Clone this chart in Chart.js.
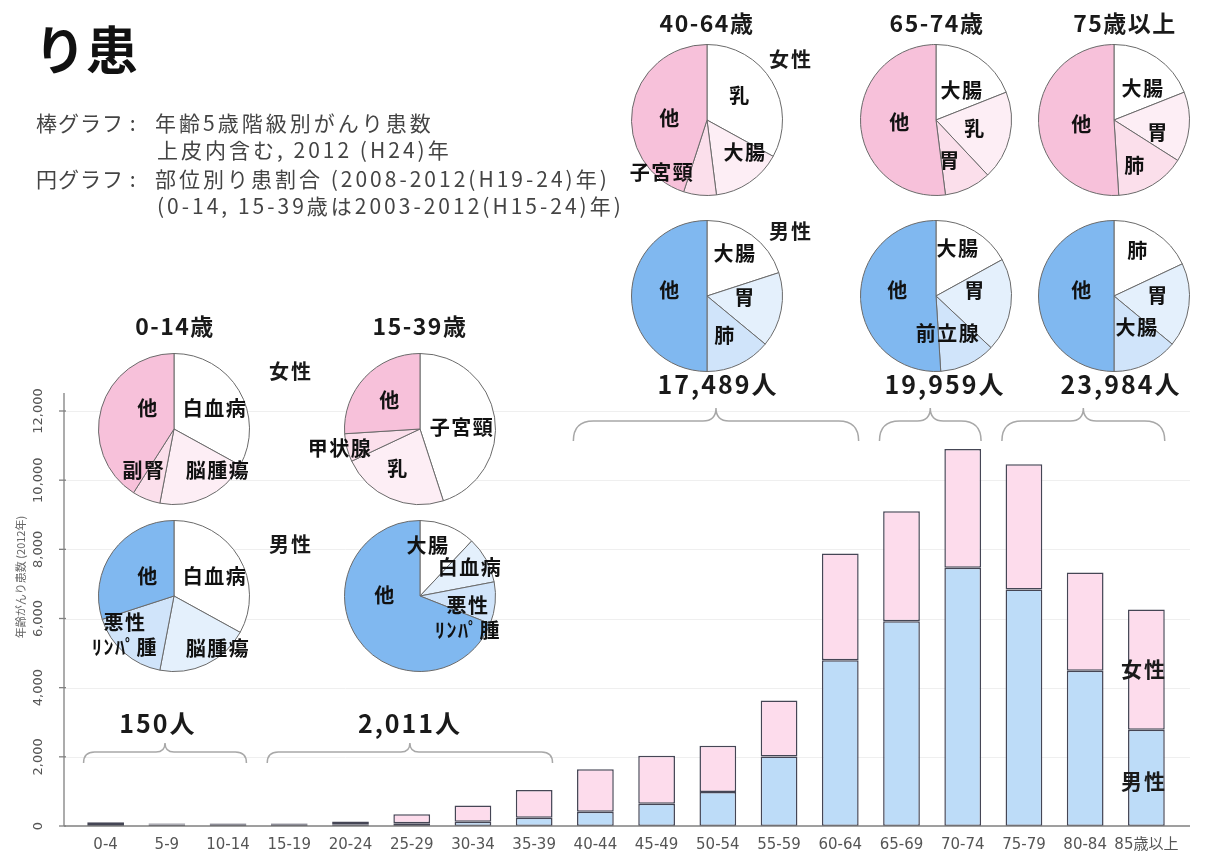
<!DOCTYPE html>
<html lang="ja">
<head>
<meta charset="utf-8">
<title>り患</title>
<script src="https://cdn.jsdelivr.net/npm/chart.js@4.4.1/dist/chart.umd.min.js"></script>
<style>
  html, body { margin: 0; padding: 0; background: #fff; }
  body {
    width: 1208px; height: 854px; position: relative; overflow: hidden;
    font-family: "Noto Sans CJK JP", "Noto Sans", sans-serif;
  }
  #barWrap { position: absolute; left: 0; top: 0; width: 1208px; height: 854px; }
  .pie { position: absolute; width: 240px; height: 200px; }
  .t { position: absolute; white-space: nowrap; color: #1a1a1a; font-weight: bold; transform: translate(-50%, -50%); }
  .title { position: absolute; left: 34px; top: 10px; font-size: 52px; font-weight: bold; color: #111; }
  .sub { position: absolute; white-space: nowrap; font-size: 21px; letter-spacing: 3px; color: #444; }
  .grp { font-size: 23px; letter-spacing: 1.5px; }
  .sex { font-size: 20px; letter-spacing: 2px; }
  .cnt { font-size: 25px; letter-spacing: 2px; }
</style>
</head>
<body>
<div id="barWrap"><canvas id="barChart"></canvas></div>

<div class="title">り患</div>
<div class="sub" style="left:36px; top:107px; letter-spacing:1px;">棒グラフ :</div>
<div class="sub" style="left:155px; top:107px;">年齢5歳階級別がんり患数</div>
<div class="sub" style="left:157px; top:134px;">上皮内含む, 2012 (H24)年</div>
<div class="sub" style="left:36px; top:163px; letter-spacing:1px;">円グラフ :</div>
<div class="sub" style="left:155px; top:163px;">部位別り患割合 (2008-2012(H19-24)年)</div>
<div class="sub" style="left:157px; top:190px;">(0-14, 15-39歳は2003-2012(H15-24)年)</div>

<div class="t grp" style="left:175px; top:325px;">0-14歳</div>
<div class="t grp" style="left:420px; top:325px;">15-39歳</div>
<div class="t grp" style="left:707px; top:22px;">40-64歳</div>
<div class="t grp" style="left:937px; top:22px;">65-74歳</div>
<div class="t grp" style="left:1125px; top:22px;">75歳以上</div>

<div class="t sex" style="left:291px; top:370px;">女性</div>
<div class="t sex" style="left:291px; top:543px;">男性</div>
<div class="t sex" style="left:791px; top:58px;">女性</div>
<div class="t sex" style="left:791px; top:230px;">男性</div>

<div class="t cnt" style="left:158px; top:722px;">150人</div>
<div class="t cnt" style="left:410px; top:722px;">2,011人</div>
<div class="t cnt" style="left:718px; top:383px;">17,489人</div>
<div class="t cnt" style="left:945px; top:383px;">19,959人</div>
<div class="t cnt" style="left:1121px; top:383px;">23,984人</div>

<div class="t sex" style="left:1144px; top:668px; font-size:21px;">女性</div>
<div class="t sex" style="left:1144px; top:780px; font-size:21px;">男性</div>

<script>
// ---- bar chart data (2012 incidence by 5-year age group) ----
const ageLabels = ['0-4', '5-9', '10-14', '15-19', '20-24', '25-29', '30-34', '35-39', '40-44',
  '45-49', '50-54', '55-59', '60-64', '65-69', '70-74', '75-79', '80-84', '85歳以上'];
const maleCases = [60, 40, 35, 35, 50, 80, 125, 240, 415, 640, 985, 2010, 4790, 5920, 7470, 6840, 4490, 2780];
const femaleCases = [50, 30, 35, 35, 80, 260, 465, 800, 1225, 1390, 1335, 1620, 3090, 3180, 3430, 3620, 2840, 3480];
const yTickStep = 2000;
const yMax = 12000;
const yTitle = '年齢がんり患数 (2012年)';

// age groups used by the pies, as first/last bar index
const groupFirstBar = [0, 3, 8, 13, 15];
const groupLastBar = [2, 7, 12, 14, 17];

// ---- pie data (share of sites, clockwise from 12 o'clock) ----
const femaleSites = [
  ['白血病', '脳腫瘍', '副腎', '他'],
  ['子宮頸', '乳', '甲状腺', '他'],
  ['乳', '大腸', '子宮頸', '他'],
  ['大腸', '乳', '胃', '他'],
  ['大腸', '胃', '肺', '他']
];
const femaleShares = [
  [33, 20, 6, 41],
  [45, 23, 6, 26],
  [33, 15, 7, 45],
  [19, 19, 10, 52],
  [19, 15, 15, 51]
];
const maleSites = [
  ['白血病', '脳腫瘍', '悪性\nﾘﾝﾊﾟ腫', '他'],
  ['大腸', '白血病', '悪性\nﾘﾝﾊﾟ腫', '他'],
  ['大腸', '胃', '肺', '他'],
  ['大腸', '胃', '前立腺', '他'],
  ['肺', '胃', '大腸', '他']
];
const maleShares = [
  [33, 20, 17, 30],
  [12, 10, 9, 69],
  [20, 16, 14, 50],
  [17, 20, 12, 51],
  [18, 18, 14, 50]
];

// layout of the pies on the page
const pieX = [174, 420, 707, 936, 1114];
const pieFemaleY = [429, 429, 120, 120, 120];
const pieMaleY = [596, 596, 296, 296, 296];
const pieRadius = 76;
const femaleColors = ['#ffffff', '#fdeef5', '#fbdfeb', '#f7c1da'];
const maleColors = ['#ffffff', '#e4f0fc', '#d0e4fa', '#80b8f0'];
// where each slice label sits, relative to the pie centre
const femaleLabelAt = [
  [[41, -21], [44, 41], [-30, 41], [-26, -21]],
  [[42, -2], [-22, 39], [-80, 19], [-30, -29]],
  [[33, -25], [38, 32], [-45, 52], [-37, -2]],
  [[26, -30], [39, 8], [14, 40], [-36, 2]],
  [[29, -32], [44, 12], [21, 45], [-32, 4]]
];
const maleLabelAt = [
  [[41, -20], [44, 52], [-49, 39], [-26, -20]],
  [[8, -51], [50, -29], [48, 22], [-35, -1]],
  [[28, -43], [38, 1], [18, 39], [-37, -6]],
  [[22, -48], [39, -6], [12, 37], [-38, -6]],
  [[24, -46], [44, -1], [23, 31], [-32, -6]]
];

const FONT = '"Noto Sans CJK JP", "Noto Sans", sans-serif';
const TICK_FONT = '"DejaVu Sans", "Noto Sans CJK JP", sans-serif';

function drawBrace(ctx, x1, x2, y, h, tip) {
  const xm = (x1 + x2) / 2;
  ctx.beginPath();
  ctx.moveTo(x1, y + h);
  ctx.quadraticCurveTo(x1, y, x1 + h, y);
  ctx.lineTo(xm - tip, y);
  ctx.quadraticCurveTo(xm, y, xm, y - tip);
  ctx.quadraticCurveTo(xm, y, xm + tip, y);
  ctx.lineTo(x2 - h, y);
  ctx.quadraticCurveTo(x2, y, x2, y + h);
  ctx.stroke();
}

// axes, grid, rotated y labels and braces
const framePlugin = {
  id: 'frame',
  beforeDatasetsDraw(chart) {
    const ctx = chart.ctx;
    const y = chart.scales.y;
    const axisX = chart.chartArea.left - 11;
    const rightX = chart.chartArea.right + 13;
    ctx.save();
    ctx.strokeStyle = '#efefef';
    ctx.lineWidth = 1;
    for (let v = yTickStep; v <= yMax; v += yTickStep) {
      const py = Math.round(y.getPixelForValue(v)) + 0.5;
      ctx.beginPath(); ctx.moveTo(axisX, py); ctx.lineTo(rightX, py); ctx.stroke();
    }
    ctx.restore();
  },
  afterDatasetsDraw(chart) {
    const ctx = chart.ctx;
    const x = chart.scales.x, y = chart.scales.y;
    const axisX = chart.chartArea.left - 11;
    const rightX = chart.chartArea.right + 13;
    const base = y.getPixelForValue(0);
    ctx.save();
    ctx.strokeStyle = '#808080';
    ctx.lineWidth = 1.3;
    ctx.beginPath();
    ctx.moveTo(axisX, base); ctx.lineTo(rightX, base);
    ctx.moveTo(axisX, base); ctx.lineTo(axisX, y.getPixelForValue(yMax) - 18);
    ctx.stroke();

    ctx.fillStyle = '#555';
    ctx.font = '13px ' + TICK_FONT;
    ctx.textAlign = 'center';
    ctx.textBaseline = 'middle';
    for (let v = 0; v <= yMax; v += yTickStep) {
      const py = y.getPixelForValue(v);
      ctx.beginPath(); ctx.moveTo(axisX - 5, py); ctx.lineTo(axisX + 2, py); ctx.stroke();
      ctx.save();
      ctx.translate(axisX - 25, py);
      ctx.rotate(-Math.PI / 2);
      ctx.fillText(v.toLocaleString('en-US'), 0, 0);
      ctx.restore();
    }
    ctx.save();
    ctx.fillStyle = '#666';
    ctx.font = '11px ' + FONT;
    ctx.translate(axisX - 43, y.getPixelForValue(7200));
    ctx.rotate(-Math.PI / 2);
    ctx.fillText(yTitle, 0, 0);
    ctx.restore();

    ctx.strokeStyle = '#a8a8a8';
    ctx.lineWidth = 1.5;
    const step = x.getPixelForValue(1) - x.getPixelForValue(0);
    groupFirstBar.forEach((first, i) => {
      const last = groupLastBar[i];
      const x1 = x.getPixelForValue(first) - step * 0.36;
      const x2 = x.getPixelForValue(last) + step * 0.3;
      if (i < 2) drawBrace(ctx, x1, x2, 752, 11, 9);
      else drawBrace(ctx, x1, x2, 421, 20, 13);
    });
    ctx.restore();
  }
};

const barCtx = document.getElementById('barChart').getContext('2d');
const barChart = new Chart(barCtx, {
  type: 'bar',
  data: {
    labels: ageLabels,
    datasets: [
      {
        label: '男性',
        data: maleCases,
        backgroundColor: '#bddcf8',
        borderColor: '#454655',
        borderWidth: 1.5,
        borderSkipped: false,
        barPercentage: 0.6,
        categoryPercentage: 1
      },
      {
        label: '女性',
        data: femaleCases,
        backgroundColor: '#fddcec',
        borderColor: '#454655',
        borderWidth: 1.5,
        borderSkipped: false,
        barPercentage: 0.6,
        categoryPercentage: 1
      }
    ]
  },
  options: {
    responsive: true,
    maintainAspectRatio: false,
    animation: false,
    layout: { padding: { left: 75, right: 31, top: 411, bottom: 0 } },
    plugins: { legend: { display: false }, tooltip: { enabled: false } },
    scales: {
      x: {
        stacked: true,
        grid: { display: false, drawTicks: false },
        border: { display: false },
        ticks: { color: '#555', font: { size: 15, family: TICK_FONT }, padding: 10, maxRotation: 0, autoSkip: false },
        afterFit(s) { s.height = 28; }
      },
      y: {
        stacked: true,
        min: 0,
        max: yMax,
        grid: { display: false },
        border: { display: false },
        ticks: { display: false, stepSize: yTickStep },
        afterFit(s) { s.width = 0; }
      }
    }
  },
  plugins: [framePlugin]
});

// labels on the pie slices
const sliceLabels = {
  id: 'sliceLabels',
  afterDatasetsDraw(chart, args, opts) {
    const ctx = chart.ctx;
    const meta = chart.getDatasetMeta(0);
    ctx.save();
    ctx.fillStyle = '#111';
    ctx.font = 'bold 20px ' + FONT;
    if ('letterSpacing' in ctx) ctx.letterSpacing = '1.5px';
    ctx.textAlign = 'center';
    ctx.textBaseline = 'middle';
    meta.data.forEach((arc, i) => {
      const p = arc.getProps(['x', 'y'], true);
      const lines = String(chart.data.labels[i]).split('\n');
      const cx = p.x + opts.at[i][0];
      const cy = p.y + opts.at[i][1];
      lines.forEach((ln, k) => {
        ctx.fillText(ln, cx, cy + (k - (lines.length - 1) / 2) * 25);
      });
    });
    ctx.restore();
  }
};

function makePie(cx, cy, sites, shares, colors, labelAt) {
  const wrap = document.createElement('div');
  wrap.className = 'pie';
  wrap.style.left = (cx - 120) + 'px';
  wrap.style.top = (cy - 100) + 'px';
  const cv = document.createElement('canvas');
  wrap.appendChild(cv);
  document.body.appendChild(wrap);
  const padX = 120 - pieRadius, padY = 100 - pieRadius;
  return new Chart(cv.getContext('2d'), {
    type: 'pie',
    data: {
      labels: sites,
      datasets: [{
        data: shares,
        backgroundColor: colors,
        borderColor: '#6a6a6a',
        borderWidth: 1,
        hoverOffset: 0
      }]
    },
    options: {
      responsive: true,
      maintainAspectRatio: false,
      animation: false,
      layout: { padding: { left: padX, right: padX, top: padY, bottom: padY } },
      plugins: { legend: { display: false }, tooltip: { enabled: false }, sliceLabels: { at: labelAt } }
    },
    plugins: [sliceLabels]
  });
}

pieX.forEach((px, i) => {
  makePie(px, pieFemaleY[i], femaleSites[i], femaleShares[i], femaleColors, femaleLabelAt[i]);
  makePie(px, pieMaleY[i], maleSites[i], maleShares[i], maleColors, maleLabelAt[i]);
});
</script>
</body>
</html>
